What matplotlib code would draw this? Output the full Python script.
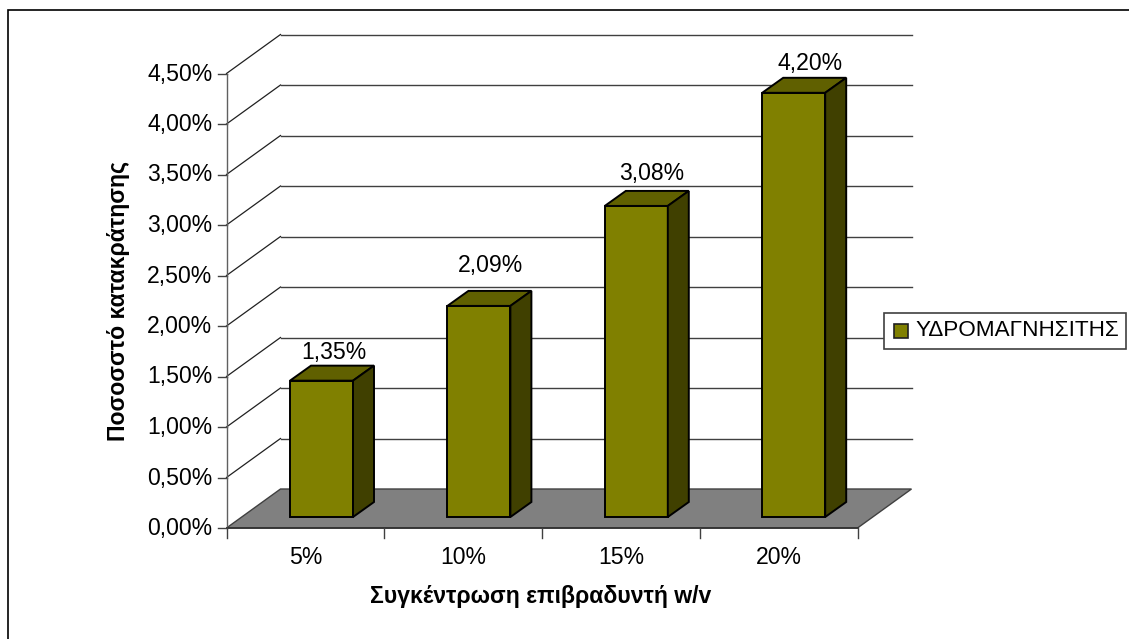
import matplotlib
matplotlib.use('Agg')
import matplotlib.pyplot as plt
from matplotlib.patches import Polygon, Rectangle

plt.rcParams['font.family'] = ['Liberation Sans', 'DejaVu Sans']

categories = ['5%', '10%', '15%', '20%']
values = [1.35, 2.09, 3.08, 4.20]
value_labels = ['1,35%', '2,09%', '3,08%', '4,20%']
y_ticks = [0.0, 0.5, 1.0, 1.5, 2.0, 2.5, 3.0, 3.5, 4.0, 4.5]
y_tick_labels = ['0,00%', '0,50%', '1,00%', '1,50%', '2,00%', '2,50%',
                 '3,00%', '3,50%', '4,00%', '4,50%']
series_name = 'ΥΔΡΟΜΑΓΝΗΣΙΤΗΣ'
x_title = 'Συγκέντρωση επιβραδυντή w/v'
y_title = 'Ποσοσστό κατακράτησης'

FRONT = '#808000'
TOP = '#606000'
SIDE = '#404000'
FLOOR = '#808080'
FS = 16.6

# Canvas in pixels, with y growing downward
fig = plt.figure(figsize=(11.29, 6.39), dpi=100)
ax = fig.add_axes([0, 0, 1, 1])
ax.set_xlim(0, 1129)
ax.set_ylim(639, 0)
ax.axis('off')

# Oblique projection of the plot box
x0, x1 = 226.5, 857.5
y0 = 528.0
per_pct = 101.0
dx, dy = 54, -39
cat_w = (x1 - x0) / len(categories)


def px(cat, pct):
    return x0 + cat * cat_w, y0 - pct * per_pct


# Outer frame
ax.add_patch(Rectangle((8, 9.5), 1300, 700, fc='white', ec='black', lw=1.2))

# Floor
ax.add_patch(Polygon([(x0, y0), (x1, y0), (x1 + dx, y0 + dy), (x0 + dx, y0 + dy)],
                     fc=FLOOR, ec='#404040', lw=1, zorder=1))

# Gridlines along the side wall and the back wall
for t, lab in zip(y_ticks, y_tick_labels):
    xa, ya = px(0, t)
    if t > 0:
        ax.plot([xa, xa + dx], [ya, ya + dy], color='#202020', lw=0.9, zorder=2)
        ax.plot([xa + dx, x1 + dx], [ya + dy, ya + dy], color='#404040', lw=1, zorder=2)
    ax.plot([xa - 9, xa], [ya, ya], color='#404040', lw=1, zorder=2)
    ax.text(xa - 14, ya + 0.5, lab, ha='right', va='center', fontsize=FS)

# Axis lines and category ticks
ax.plot([x0, x0], [y0, y0 - 4.5 * per_pct], color='#606060', lw=1, zorder=3)
ax.plot([x0, x1], [y0, y0], color='#303030', lw=1.2, zorder=3)
for i in range(len(categories) + 1):
    xt, _ = px(i, 0)
    ax.plot([xt, xt], [y0, y0 + 10], color='#404040', lw=1, zorder=3)

# 3D bars, sitting part way back on the floor
bar_w = 63
bar_dx, bar_dy = 21, -15
bar_base = y0 - 11
bar_first = 290
bar_pitch = 157.4
label_lift = [2, 14, 6, 3]
label_dx = [12, 12, 15.5, 16]
for i, v in enumerate(values):
    xl = bar_first + i * bar_pitch
    xr = xl + bar_w
    yt = bar_base - v * per_pct
    ax.add_patch(Polygon([(xl, bar_base), (xr, bar_base), (xr, yt), (xl, yt)],
                         fc=FRONT, ec='black', lw=1.4, zorder=5, joinstyle='miter'))
    ax.add_patch(Polygon([(xl, yt), (xr, yt), (xr + bar_dx, yt + bar_dy), (xl + bar_dx, yt + bar_dy)],
                         fc=TOP, ec='black', lw=1.4, zorder=5, joinstyle='miter'))
    ax.add_patch(Polygon([(xr, bar_base), (xr + bar_dx, bar_base + bar_dy),
                          (xr + bar_dx, yt + bar_dy), (xr, yt)],
                         fc=SIDE, ec='black', lw=1.4, zorder=5, joinstyle='miter'))
    ax.text(xl + bar_w / 2 + label_dx[i], yt + bar_dy - label_lift[i], value_labels[i],
            ha='center', va='bottom', fontsize=FS, zorder=6)
    ax.text(px(i + 0.5, 0)[0], y0 + 30, categories[i], ha='center', va='center', fontsize=FS)

# Axis titles
ax.text(541, 596, x_title, ha='center', va='center', fontsize=FS, fontweight='bold')
ax.text(118, 301, y_title, ha='center', va='center', rotation=90,
        fontsize=FS, fontweight='bold')

# Legend box
ax.add_patch(Rectangle((883.5, 312.5), 242.5, 36, fc='white', ec='#404040', lw=1.2, zorder=4))
ax.add_patch(Rectangle((893.5, 323.5), 14, 14, fc=FRONT, ec='#202020', lw=1.2, zorder=5))
ax.text(915, 331, series_name, ha='left', va='center', fontsize=16.2, zorder=5)

fig.savefig('out.png', dpi=100)
